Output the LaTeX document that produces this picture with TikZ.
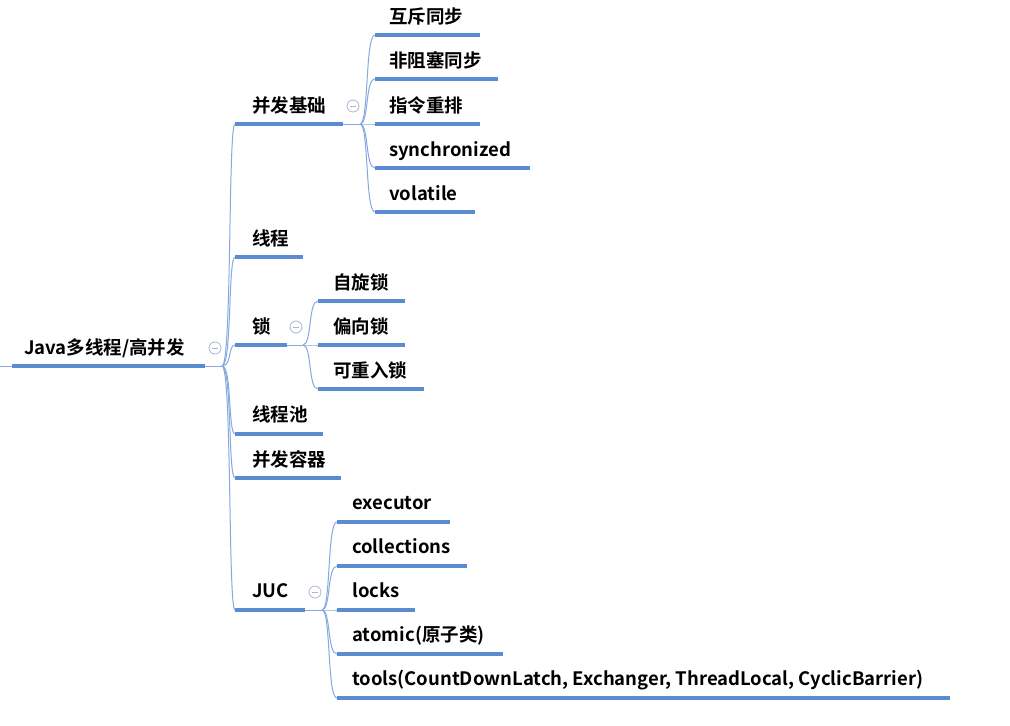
\documentclass[tikz,border=0pt]{standalone}
\usepackage{fontspec}
\setmainfont{Noto Sans CJK SC}[BoldFont={Noto Sans CJK SC Bold}]
\definecolor{uline}{HTML}{5B8BD0}
\definecolor{conn}{HTML}{86A9DE}
\definecolor{fold}{HTML}{A9B8D2}
\begin{document}
\begin{tikzpicture}[x=1pt,y=-1pt,
  lbl/.style={anchor=west,inner sep=0pt,text height=16pt,text depth=3pt,
    font=\fontsize{18.5}{22}\bfseries\selectfont},
  ubar/.style={uline,line width=3.2pt},
  thin/.style={conn,line width=1pt},
  foldmark/.style={circle,draw=fold,line width=0.8pt,minimum size=12pt,inner sep=0pt,fill=white,
    path picture={\draw[fold,line width=0.8pt] ([xshift=-3pt]path picture bounding box.center) -- ([xshift=3pt]path picture bounding box.center);}}
]
\useasboundingbox (0,0) rectangle (1010,726);
\fill[white] (0,0) rectangle (1010,726);

% ---------- root ----------
\coordinate (rL) at (0,366);
\coordinate (rA) at (12,366);
\coordinate (rB) at (205,366);
\coordinate (rP) at (222,366);
\node[lbl] (root) at (24,348) {Java多线程/高并发};
\draw[thin] (rL) -- (rA);
\draw[ubar] (rA) -- (rB);
\draw[thin] (rB) -- (rP);
\node[foldmark] (rfold) at (215,348) {};

% ---------- level 1 ----------
\foreach \n/\y/\e in {a/124/343, b/257/303, c/345/287, d/434/323, e/478/341, f/610/305}{
  \coordinate (\n S) at (235,\y);
  \coordinate (\n E) at (\e,\y);
  \draw[ubar] (\n S) -- (\n E);
  \draw[thin] (rP) .. controls (232,366) and (228,\y) .. (\n S);
}
\node[lbl] (n1) at (252,106) {并发基础};
\node[lbl] (n2) at (252,239) {线程};
\node[lbl] (n3) at (252,327) {锁};
\node[lbl] (n4) at (252,415) {线程池};
\node[lbl] (n5) at (252,460) {并发容器};
\node[lbl] (n6) at (252,591) {JUC};

% ---------- 并发基础 children ----------
\coordinate (aP) at (360,124);
\draw[thin] (aE) -- (aP);
\foreach \n/\y/\e in {1/35/480, 2/79/498, 3/124/480, 4/168/530, 5/212/475}{
  \coordinate (a\n S) at (375,\y);
  \coordinate (a\n E) at (\e,\y);
  \draw[ubar] (a\n S) -- (a\n E);
  \draw[thin] (aP) .. controls (369,124) and (365,\y) .. (a\n S);
}
\node[foldmark] (afold) at (353,106) {};
\node[lbl] (a1) at (389,17) {互斥同步};
\node[lbl] (a2) at (389,61) {非阻塞同步};
\node[lbl] (a3) at (389,106) {指令重排};
\node[lbl] (a4) at (389,150) {synchronized};
\node[lbl] (a5) at (389,194) {volatile};

% ---------- 锁 children ----------
\coordinate (cP) at (303,345);
\draw[thin] (cE) -- (cP);
\foreach \n/\y/\e in {1/301/405, 2/345/405, 3/389/424}{
  \coordinate (c\n S) at (318,\y);
  \coordinate (c\n E) at (\e,\y);
  \draw[ubar] (c\n S) -- (c\n E);
  \draw[thin] (cP) .. controls (312,345) and (308,\y) .. (c\n S);
}
\node[foldmark] (cfold) at (296,327) {};
\node[lbl] (c1) at (333,283) {自旋锁};
\node[lbl] (c2) at (333,327) {偏向锁};
\node[lbl] (c3) at (333,371) {可重入锁};

% ---------- JUC children ----------
\coordinate (fP) at (322,610);
\draw[thin] (fE) -- (fP);
\foreach \n/\y/\e in {1/522/450, 2/566/467, 3/610/415, 4/654/503, 5/698/950}{
  \coordinate (f\n S) at (337,\y);
  \coordinate (f\n E) at (\e,\y);
  \draw[ubar] (f\n S) -- (f\n E);
  \draw[thin] (fP) .. controls (331,610) and (327,\y) .. (f\n S);
}
\node[foldmark] (ffold) at (315,592) {};
\node[lbl] (f1) at (352,503) {executor};
\node[lbl] (f2) at (352,547) {collections};
\node[lbl] (f3) at (352,591) {locks};
\node[lbl] (f4) at (352,635) {atomic(原子类)};
\node[lbl] (f5) at (352,679) {tools(CountDownLatch, Exchanger, ThreadLocal, CyclicBarrier)};
\end{tikzpicture}
\end{document}
